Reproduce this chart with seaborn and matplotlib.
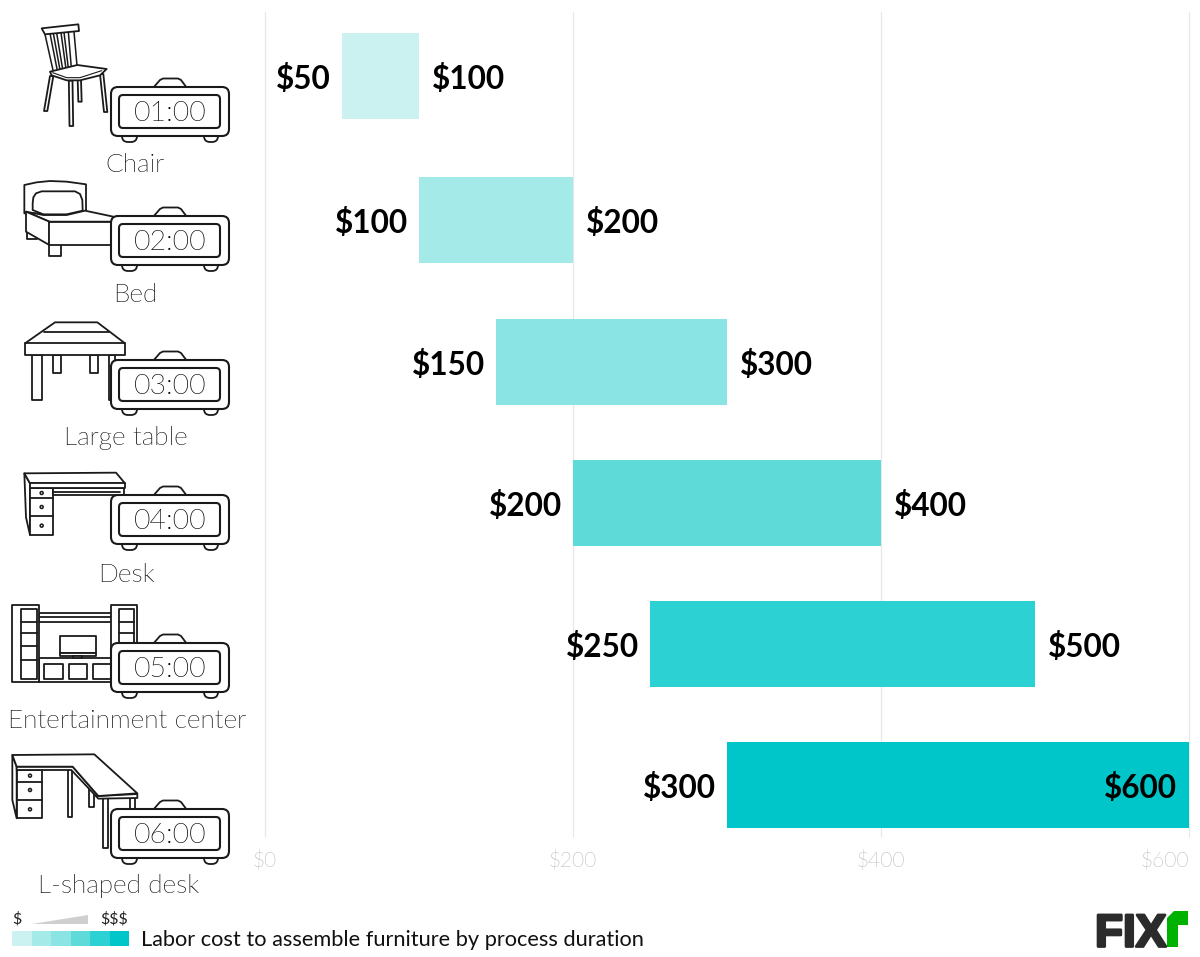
import os
import matplotlib
matplotlib.use("Agg")
import matplotlib.pyplot as plt
import matplotlib.patheffects as pe
from matplotlib import font_manager as fm
import seaborn as sns
import pandas as pd
from matplotlib.patches import Polygon, Rectangle, FancyBboxPatch, Circle

# ---- data ----
items = ["Chair", "Bed", "Large table", "Desk", "Entertainment center", "L-shaped desk"]
durations = ["01:00", "02:00", "03:00", "04:00", "05:00", "06:00"]
low_cost = [50, 100, 150, 200, 250, 300]
high_cost = [100, 200, 300, 400, 500, 600]
colors = ["#CBF2F1", "#A3EAE8", "#8AE4E3", "#5EDAD9", "#2BD1D3", "#00C5C9"]
x_ticks = [0, 200, 400, 600]
x_tick_labels = ["$0", "$200", "$400", "$600"]
legend_title = "Labor cost to assemble furniture by process duration"

# ---- layout (pixels of the 1200x957 picture) ----
W, H = 1200, 957
AX_L, AX_R, AX_T, AX_B = 265, 1189, 12, 837
ROW_PX = 141.8
ROW0 = 76
row_nudge_px = [0, 2.2, 2.4, 1.6, 0.8, 0]
clock_top = [87, 216, 360, 495, 643, 809]
label_xy = [(135, 164.5), (135, 295.5), (126, 438.5), (126, 574.5), (127.5, 721.5), (119, 886.5)]

sns.set_theme(style="white")
plt.rcParams["font.family"] = ["Lato", "DejaVu Sans"]
INK = "#1a1a1a"


def light_font(size):
    for f in fm.fontManager.ttflist:
        base = os.path.basename(f.fname).lower()
        if "lato" in base and "light" in base and "italic" not in base:
            return fm.FontProperties(fname=f.fname, size=size)
    return fm.FontProperties(family="Lato", weight="normal", size=size)


fig = plt.figure(figsize=(W / 100, H / 100), dpi=100, facecolor="white")
ax = fig.add_axes([AX_L / W, 1 - AX_B / H, (AX_R - AX_L) / W, (AX_B - AX_T) / H])

df = pd.DataFrame({"item": items, "low": low_cost,
                   "span": [h - l for h, l in zip(high_cost, low_cost)]})
sns.barplot(data=df, y="item", x="span", hue="item", palette=colors, order=items, hue_order=items,
            dodge=False, legend=False, width=86 / ROW_PX, saturation=1, ax=ax, zorder=3,
            linewidth=0, errorbar=None)
ax.set_xlim(0, 600)
ax.set_ylim((AX_B - ROW0) / ROW_PX, (AX_T - ROW0) / ROW_PX)
ax.set_xlabel("")
ax.set_ylabel("")
ax.set_yticks([])
for s in ax.spines.values():
    s.set_visible(False)
ax.set_xticks(x_ticks)
ax.set_xticklabels(x_tick_labels, color="#b8b8b8", fontproperties=light_font(15))
ax.tick_params(axis="x", length=0, pad=9.5)
ax.xaxis.grid(True, color="#e8e8e8", linewidth=0.9, zorder=0)
ax.set_axisbelow(True)
ax.get_xticklabels()[-1].set_ha("right")
for g in ax.get_xgridlines():
    g.set_clip_on(False)

patches = sorted(ax.patches, key=lambda p: p.get_y())
for i, p in enumerate(patches):
    p.set_x(low_cost[i])
    p.set_y(p.get_y() + row_nudge_px[i] / ROW_PX)
    yc = p.get_y() + p.get_height() / 2
    ax.annotate(f"${low_cost[i]}", (low_cost[i], yc), xytext=(-8.0, -2.0), textcoords="offset points",
                ha="right", va="center", fontsize=22.7, fontweight="bold", color="black")
    inside = high_cost[i] >= 600
    ax.annotate(f"${high_cost[i]}", (high_cost[i], yc), xytext=(-9.0 if inside else 9.5, -2.0),
                textcoords="offset points", ha="right" if inside else "left", va="center",
                fontsize=22.7, fontweight="bold", color="black", zorder=5)

# ---- overlay for pictograms, labels and legend ----
ov = fig.add_axes([0, 0, 1, 1], facecolor="none")
ov.set_xlim(0, W)
ov.set_ylim(H, 0)
ov.axis("off")
LW = 1.3


def poly(pts, dy=0, fc="white", lw=LW, z=2):
    ov.add_patch(Polygon([(x / 3, (y + dy) / 3) for x, y in pts], closed=True, fc=fc,
                         ec=INK, lw=lw, zorder=z, joinstyle="round"))


def rect(x0, y0, x1, y1, dy=0, **k):
    poly([(x0, y0), (x1, y0), (x1, y1), (x0, y1)], dy, **k)


def line(pts, dy=0, lw=LW, z=2):
    ov.plot([x / 3 for x, y in pts], [(y + dy) / 3 for x, y in pts], color=INK, lw=lw, zorder=z,
            solid_capstyle="round")


def dot(x, y, dy=0):
    ov.add_patch(Circle((x / 3, (y + dy) / 3), 1.5, fc="white", ec=INK, lw=1.1, zorder=3))


def leg(x0, y0, x1, y1, w, dy=0):
    poly([(x0 - w / 2, y0), (x0 + w / 2, y0), (x1 + w / 2, y1), (x1 - w / 2, y1)], dy)


def chair():
    for l in [(238, 240, 240, 305, 10), (155, 228, 137, 333, 10), (212, 242, 214, 378, 11),
              (305, 222, 317, 336, 10)]:
        leg(*l)
    for a, b in [((135, 103), (160, 215)), ((150, 100), (172, 212)), ((160, 100), (180, 210)),
                 ((170, 99), (188, 208)), ((183, 98), (198, 207)), ((192, 97), (205, 205)),
                 ((205, 96), (214, 203)), ((222, 95), (231, 197))]:
        line([a, b], lw=1.1)
    poly([(150, 215), (232, 195), (320, 207), (300, 226), (240, 241), (200, 241), (155, 226)])
    line([(158, 218), (200, 233), (240, 233), (305, 212)], lw=0.8, z=3)
    poly([(125, 85), (235, 73), (237, 93), (135, 103)])


def bed():
    rect(148, 730, 182, 767)
    rect(82, 695, 110, 718)
    poly([(73, 555), (110, 547), (150, 543), (200, 545), (258, 553), (258, 640), (73, 640)])
    poly([(78, 635), (148, 665), (340, 665), (340, 650), (255, 632), (200, 645), (130, 645)])
    poly([(98, 610), (100, 592), (108, 580), (125, 574), (225, 574), (240, 582), (247, 600), (248, 632),
          (200, 643), (130, 643), (98, 630)])
    poly([(78, 635), (78, 695), (148, 735), (148, 665)])
    rect(148, 665, 340, 735)


def table():
    d = 930
    rect(95, 135, 125, 270, d)
    rect(158, 135, 182, 190, d)
    rect(270, 135, 293, 190, d)
    rect(328, 135, 345, 270, d)
    poly([(75, 100), (165, 37), (292, 37), (375, 100), (375, 135), (75, 135)], d)
    line([(75, 100), (375, 100)], d)
    line([(132, 65), (328, 65)], d)


def desk():
    d = 930
    poly([(73, 490), (90, 520), (90, 675), (78, 622)], d)
    rect(90, 535, 160, 675, d)
    line([(90, 565), (160, 565)], d)
    line([(90, 618), (160, 618)], d)
    for y in (549, 591, 647):
        dot(125, y, d)
    rect(160, 535, 372, 555, d)
    line([(160, 546), (360, 546)], d)
    poly([(73, 490), (348, 488), (375, 520), (90, 520)], d)
    rect(90, 520, 375, 535, d)


def entertainment():
    d = 1800
    rect(118, 175, 335, 245, d)
    for x0, x1 in [(133, 190), (206, 262), (278, 335)]:
        rect(x0, 192, x1, 238, d)
    rect(118, 40, 335, 65, d)
    line([(118, 52), (335, 52)], d)
    rect(180, 107, 288, 160, d)
    rect(180, 160, 288, 167, d)
    rect(220, 167, 245, 175, d)
    for x0, x1, a, b in [(37, 118, 62, 110), (332, 412, 358, 403)]:
        rect(x0, 15, x1, 245, d)
        rect(a, 28, b, 238, d)
        for y in (65, 100, 137, 180):
            line([(a, y), (b, y)], d)


def ldesk():
    d = 1800
    leg(209, 505, 209, 650, 13, d)
    leg(275, 565, 275, 622, 14, d)
    leg(316, 595, 316, 745, 13, d)
    leg(398, 595, 398, 630, 14, d)
    poly([(37, 465), (50, 500), (50, 655), (37, 600)], d)
    rect(50, 510, 125, 655, d)
    line([(50, 545), (125, 545)], d)
    line([(50, 600), (125, 600)], d)
    for y in (527, 570, 628):
        dot(90, y, d)
    poly([(50, 500), (218, 500), (295, 588), (412, 582), (412, 594), (295, 596), (214, 510), (50, 510)], d)
    poly([(37, 465), (283, 463), (412, 580), (295, 588), (218, 500), (50, 500)], d)


def clock(top, txt):
    t = top
    ov.add_patch(Polygon([(153, t + 1), (160, t - 7), (163, t - 8.5), (178, t - 8.5), (181, t - 7), (187, t + 1)],
                         closed=True, fc="white", ec=INK, lw=LW, zorder=4, joinstyle="round"))
    for x0, x1 in [(122, 137), (204, 218)]:
        ov.add_patch(FancyBboxPatch((x0, t + 44), x1 - x0, 11, boxstyle="round,pad=0,rounding_size=6",
                                    fc="white", ec=INK, lw=LW, zorder=4))
    ov.add_patch(FancyBboxPatch((111, t), 118, 49, boxstyle="round,pad=0,rounding_size=7",
                                fc="white", ec=INK, lw=1.5, zorder=5))
    ov.add_patch(FancyBboxPatch((119, t + 8), 101, 33, boxstyle="round,pad=0,rounding_size=4",
                                fc="white", ec=INK, lw=1.5, zorder=6))
    ov.text(170, t + 26.5, txt, ha="center", va="center", fontproperties=light_font(20.5),
            color="#000000", zorder=7)


for fn in (chair, bed, table, desk, entertainment, ldesk):
    fn()
for t, d in zip(clock_top, durations):
    clock(t, d)
for (x, y), name in zip(label_xy, items):
    ov.text(x, y, name, ha="center", va="center", fontproperties=light_font(18.9), color="#000000")

# ---- cost legend ----
cw = (129 - 12) / len(colors)
for i, c in enumerate(colors):
    ov.add_patch(Rectangle((12 + i * cw, 931), cw, 15, fc=c, ec="none"))
ov.add_patch(Polygon([(32, 924), (88, 915), (88, 924)], closed=True, fc="#cfcfcf", ec="none"))
ov.text(12, 919.5, "$", ha="left", va="center", fontsize=11.5, color="#222222")
ov.text(128, 919.5, "$$$", ha="right", va="center", fontsize=11.5, color="#222222")
ov.text(141, 940, legend_title, ha="left", va="center", fontsize=15.7, color="#111111")

# ---- logo ----
logo = ov.text(1095, 946.5, "FIX", ha="left", va="baseline", fontsize=33,
               family=["Liberation Sans Narrow", "Liberation Sans"], fontweight="bold", color="#2b2b2b")
logo.set_path_effects([pe.withStroke(linewidth=2.0, foreground="#2b2b2b")])
ov.add_patch(Polygon([(1167, 947), (1167, 918), (1174, 911), (1188, 911), (1188, 925), (1178, 925), (1178, 947)],
                     closed=True, fc="#00B200", ec="none"))

fig.savefig("out.png", dpi=100)
